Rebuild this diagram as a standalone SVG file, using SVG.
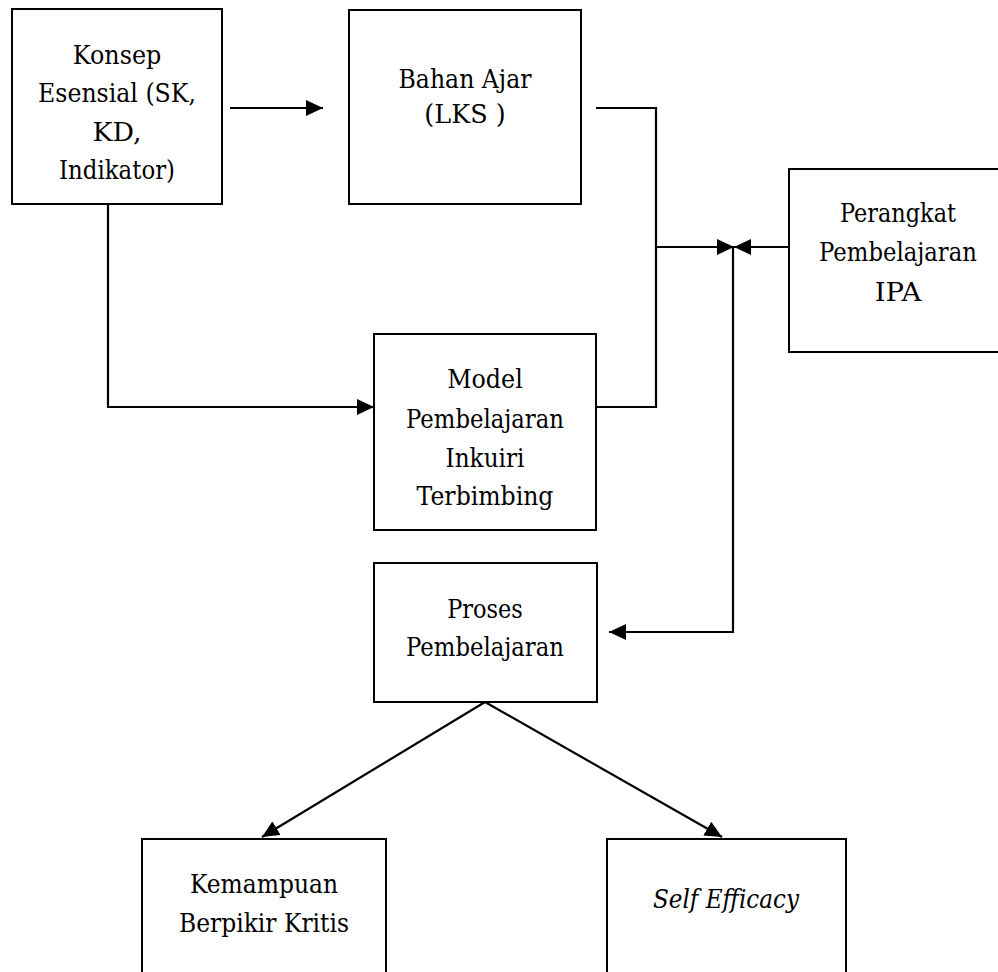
<svg xmlns="http://www.w3.org/2000/svg" width="998" height="972" viewBox="0 0 998 972">
  <defs>
    <marker id="ah" viewBox="0 0 17 16" refX="17" refY="8" markerWidth="17" markerHeight="16" markerUnits="userSpaceOnUse" orient="auto">
      <path d="M0,0 L17,8 L0,16 z" fill="#000"/>
    </marker>
    <style>
      .box { fill: #fff; stroke: #000; stroke-width: 2; }
      .t { font-family: "DejaVu Serif", serif; font-size: 26.5px; fill: #000; text-anchor: middle; }
      .it { font-style: italic; }
      .c { fill: none; stroke: #000; stroke-width: 2.2; }
      .a { marker-end: url(#ah); }
    </style>
  </defs>
  <rect x="0" y="0" width="998" height="972" fill="#fff"/>

  <g id="connectors">
    <path class="c a" d="M230,108 L323,108"/>
    <path class="c a" d="M108,204 L108,407 L374,407"/>
    <path class="c" d="M596,108 L656,108 L656,407 L597,407"/>
    <path class="c a" d="M656,247 L734,247"/>
    <path class="c a" d="M789,247 L734,247"/>
    <path class="c a" d="M733,247 L733,632 L609,632"/>
    <path class="c a" d="M485,702 L262,837"/>
    <path class="c a" d="M485,702 L722,837"/>
  </g>

  <g id="konsep">
    <rect class="box" x="12" y="9" width="210" height="195"/>
    <text class="t" x="117" y="64" textLength="88.6" lengthAdjust="spacingAndGlyphs">Konsep</text>
    <text class="t" x="117" y="102" textLength="157.9" lengthAdjust="spacingAndGlyphs">Esensial (SK,</text>
    <text class="t" x="117" y="141" textLength="49.1" lengthAdjust="spacingAndGlyphs">KD,</text>
    <text class="t" x="117" y="179" textLength="116" lengthAdjust="spacingAndGlyphs">Indikator)</text>
  </g>

  <g id="bahan">
    <rect class="box" x="349" y="10" width="232" height="194"/>
    <text class="t" x="465" y="88" textLength="132.9" lengthAdjust="spacingAndGlyphs">Bahan Ajar</text>
    <text class="t" x="465" y="123" textLength="81.3" lengthAdjust="spacingAndGlyphs">(LKS )</text>
  </g>

  <g id="perangkat">
    <path class="box" d="M998,169 L789,169 L789,352 L998,352"/>
    <text class="t" x="898" y="222" textLength="116" lengthAdjust="spacingAndGlyphs">Perangkat</text>
    <text class="t" x="898" y="261" textLength="157.8" lengthAdjust="spacingAndGlyphs">Pembelajaran</text>
    <text class="t" x="898" y="301" textLength="46.7" lengthAdjust="spacingAndGlyphs">IPA</text>
  </g>

  <g id="model">
    <rect class="box" x="374" y="334" width="222" height="196"/>
    <text class="t" x="485" y="388" textLength="75.7" lengthAdjust="spacingAndGlyphs">Model</text>
    <text class="t" x="485" y="428" textLength="157.8" lengthAdjust="spacingAndGlyphs">Pembelajaran</text>
    <text class="t" x="485" y="467" textLength="78.9" lengthAdjust="spacingAndGlyphs">Inkuiri</text>
    <text class="t" x="485" y="505" textLength="136.9" lengthAdjust="spacingAndGlyphs">Terbimbing</text>
  </g>

  <g id="proses">
    <rect class="box" x="374" y="563" width="223" height="139"/>
    <text class="t" x="485" y="618" textLength="75.7" lengthAdjust="spacingAndGlyphs">Proses</text>
    <text class="t" x="485" y="656" textLength="157.8" lengthAdjust="spacingAndGlyphs">Pembelajaran</text>
  </g>

  <g id="kemampuan">
    <path class="box" d="M142,972 L142,839 L386,839 L386,972"/>
    <text class="t" x="264" y="893" textLength="148.2" lengthAdjust="spacingAndGlyphs">Kemampuan</text>
    <text class="t" x="264" y="932" textLength="170" lengthAdjust="spacingAndGlyphs">Berpikir Kritis</text>
  </g>

  <g id="selfefficacy">
    <path class="box" d="M607,972 L607,839 L846,839 L846,972"/>
    <text class="t it" x="726" y="908" textLength="146" lengthAdjust="spacingAndGlyphs">Self Efficacy</text>
  </g>
</svg>
